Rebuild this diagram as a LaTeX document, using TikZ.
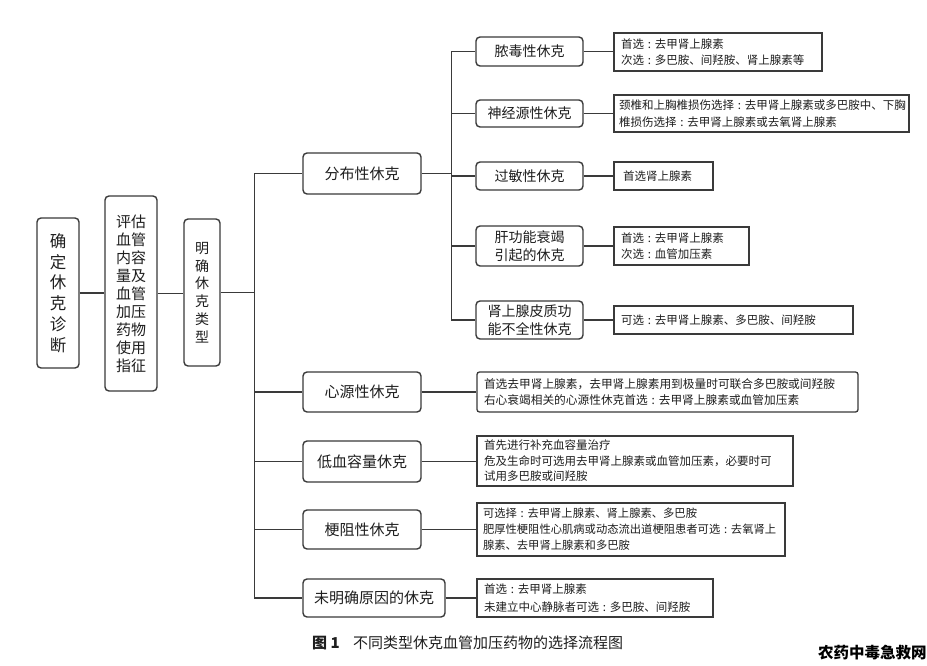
\documentclass[tikz,border=0pt]{standalone}
\usepackage{fontspec}
\setmainfont{Noto Sans CJK SC}
\definecolor{lc}{HTML}{3A3A3A}
\definecolor{tc}{HTML}{1E1E1E}
\begin{document}
\begin{tikzpicture}[x=1pt,y=-1pt,
  mainbox/.style={draw=lc, line width=1.4pt, rounded corners=4pt, inner sep=0pt, text=tc, align=center},
  typebox/.style={mainbox, font=\fontsize{15}{18}\selectfont},
  subbox/.style={mainbox, font=\fontsize{14}{18}\selectfont, minimum width=107pt},
  note/.style={draw=lc, line width=1.3pt, inner xsep=7pt, inner ysep=0pt, align=left, text=tc, font=\fontsize{11.5}{16.5}\selectfont},
  rnote/.style={note, rounded corners=2.5pt},
  link/.style={draw=lc, line width=1.4pt},
  captext/.style={anchor=west, inner sep=0pt, text=tc}
]
\useasboundingbox (0,0) rectangle (927,666);
\fill[white] (0,0) rectangle (927,666);

% left chain
\node[mainbox, font=\fontsize{16.5}{20.7}\selectfont, minimum width=42pt, minimum height=150pt] (diag) at (58,293) {确\\定\\休\\克\\诊\\断};
\node[mainbox, font=\fontsize{15}{18}\selectfont, minimum width=52pt, minimum height=195pt] (eval) at (131,293.5) {评估\\血管\\内容\\量及\\血管\\加压\\药物\\使用\\指征};
\node[mainbox, font=\fontsize{14}{17.8}\selectfont, minimum width=36pt, minimum height=147pt] (type) at (202,292.5) {明\\确\\休\\克\\类\\型};

% level 2
\node[typebox, minimum width=118pt, minimum height=41pt] (dist) at (362,173.5) {分布性休克};
\node[typebox, minimum width=118pt, minimum height=40pt] (card) at (362,392) {心源性休克};
\node[typebox, minimum width=118pt, minimum height=41pt] (hypo) at (362,461.5) {低血容量休克};
\node[typebox, minimum width=118pt, minimum height=39pt] (obst) at (362,529.5) {梗阻性休克};
\node[typebox, minimum width=142pt, minimum height=38pt] (unk) at (374,598) {未明确原因的休克};

% level 3
\node[subbox, minimum height=29pt] (sep) at (529.5,51.5) {脓毒性休克};
\node[subbox, minimum height=27pt] (neu) at (529.5,113.5) {神经源性休克};
\node[subbox, minimum height=28pt] (ana) at (529.5,176) {过敏性休克};
\node[subbox, minimum height=40pt] (liv) at (529.5,246) {肝功能衰竭\\引起的休克};
\node[subbox, minimum height=38pt] (adr) at (529.5,320) {肾上腺皮质功\\能不全性休克};

% notes of level 3
\node[note, text width=194pt, minimum height=38pt] (nsep) at (718,52) {首选~:~去甲肾上腺素\\次选~:~多巴胺、间羟胺、肾上腺素等};
\node[note, inner xsep=5pt, text width=285pt, minimum height=37pt] (nneu) at (761.5,113.5) {颈椎和上胸椎损伤选择~:~去甲肾上腺素或多巴胺中、下胸\\椎损伤选择~:~去甲肾上腺素或去氧肾上腺素};
\node[note, inner xsep=9pt, text width=81pt, minimum height=28pt] (nana) at (663.5,176) {首选肾上腺素};
\node[note, text width=121pt, minimum height=38pt] (nliv) at (681.5,246) {首选~:~去甲肾上腺素\\次选~:~血管加压素};
\node[note, text width=225pt, minimum height=28pt] (nadr) at (733.5,320) {可选~:~去甲肾上腺素、多巴胺、间羟胺};

% notes of level 2
\node[rnote, text width=367pt, minimum height=40pt, font=\fontsize{11.7}{16.5}\selectfont] (ncard) at (667.5,392) {首选去甲肾上腺素，去甲肾上腺素用到极量时可联合多巴胺或间羟胺\\右心衰竭相关的心源性休克首选~:~去甲肾上腺素或血管加压素};
\node[note, text width=302pt, minimum height=50pt, font=\fontsize{11.5}{15.5}\selectfont] (nhypo) at (635,461) {首先进行补充血容量治疗\\危及生命时可选用去甲肾上腺素或血管加压素，必要时可\\试用多巴胺或间羟胺};
\node[note, inner xsep=6pt, text width=296pt, minimum height=53pt, font=\fontsize{11.3}{16}\selectfont] (nobst) at (631,529.5) {可选择~:~去甲肾上腺素、肾上腺素、多巴胺\\肥厚性梗阻性心肌病或动态流出道梗阻患者可选~:~去氧肾上\\腺素、去甲肾上腺素和多巴胺};
\node[note, text width=222pt, minimum height=38pt, font=\fontsize{11.5}{17.5}\selectfont] (nunk) at (595,598) {首选~:~去甲肾上腺素\\未建立中心静脉者可选~:~多巴胺、间羟胺};

% connectors
\draw[link] (diag.east) -- (diag.east -| eval.west);
\draw[link] (eval.east) -- (eval.east -| type.west);
\draw[link] (type.east) -- ++(34,0) coordinate (tr);
\foreach \c in {dist,card,hypo,obst,unk} \draw[link] (tr) |- (\c.west);
\draw[link] (dist.east) -- ++(30,0) coordinate (st);
\foreach \c in {sep,neu,ana,liv,adr} \draw[link] (st) |- (\c.west);
\draw[link] (sep.east) -- (sep.east -| nsep.west);
\draw[link] (neu.east) -- (neu.east -| nneu.west);
\draw[link] (ana.east) -- (ana.east -| nana.west);
\draw[link] (liv.east) -- (liv.east -| nliv.west);
\draw[link] (adr.east) -- (adr.east -| nadr.west);
\draw[link] (card.east) -- (card.east -| ncard.west);
\draw[link] (hypo.east) -- (hypo.east -| nhypo.west);
\draw[link] (obst.east) -- (obst.east -| nobst.west);
\draw[link] (unk.east) -- (unk.east -| nunk.west);

% caption and watermark
\node[captext, font=\fontsize{15}{18}\selectfont\bfseries] (figno) at (312,643) {图 1};
\node[captext, font=\fontsize{15}{18}\selectfont] (cap) at (353,643) {不同类型休克血管加压药物的选择流程图};
\node[captext, font=\fontsize{15.5}{18}\selectfont\bfseries, text=black] (wm) at (818,653) {农药中毒急救网};
\end{tikzpicture}
\end{document}
